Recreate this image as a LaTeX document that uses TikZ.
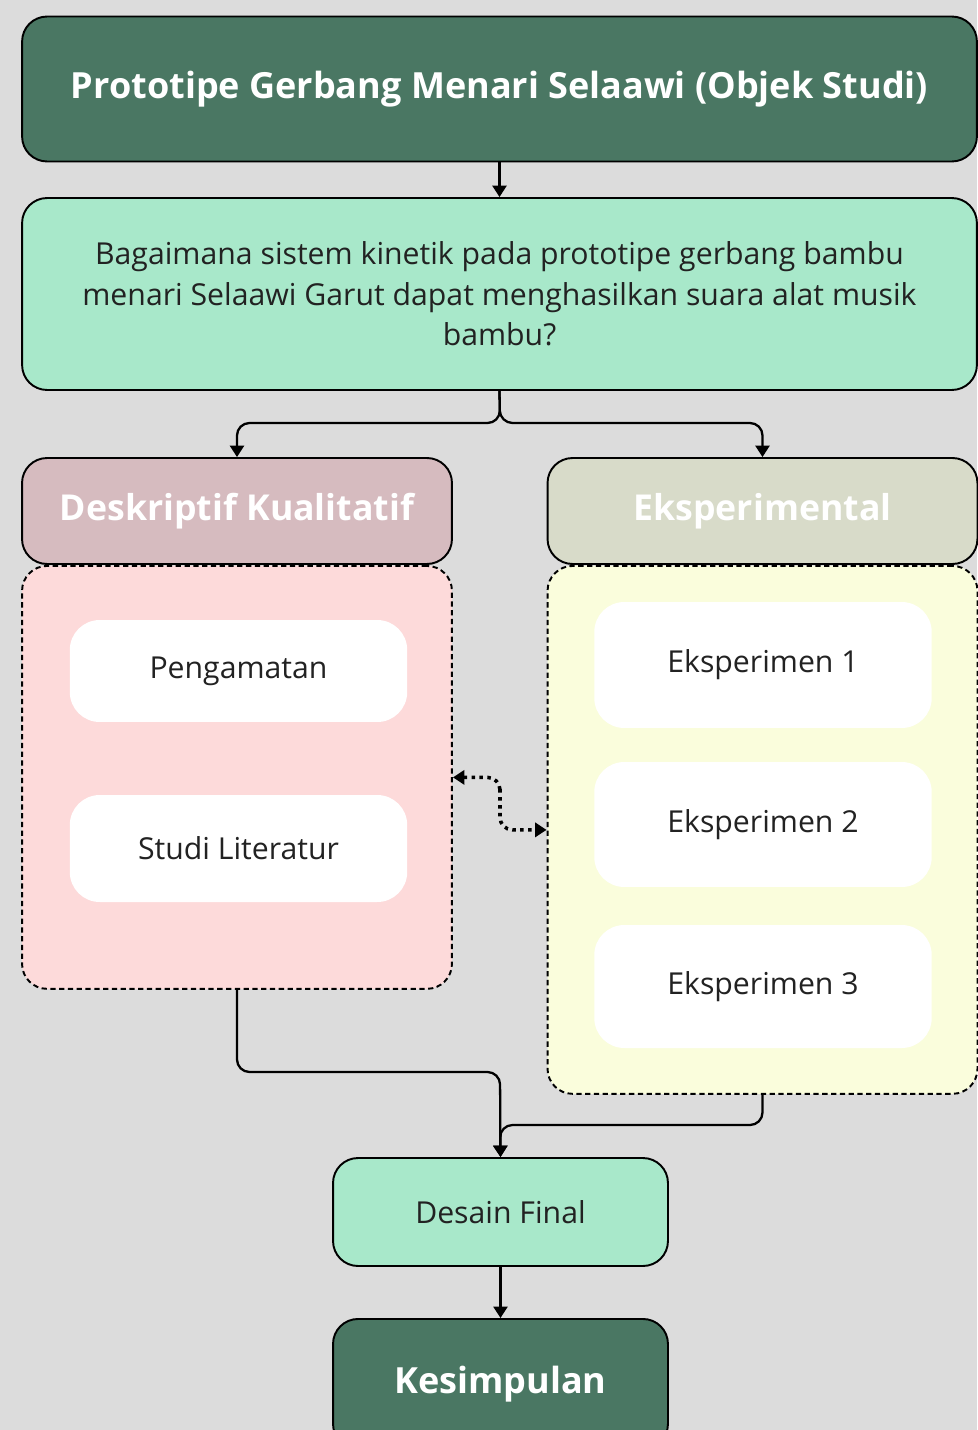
\documentclass[tikz,border=0pt]{standalone}
\usepackage{fontspec}
\setmainfont{Open Sans}
\usetikzlibrary{arrows.meta}

\definecolor{bgray}{HTML}{DCDCDC}
\definecolor{darkgreen}{HTML}{4A7763}
\definecolor{mint}{HTML}{A8E8CA}
\definecolor{rosehead}{HTML}{D6BBBF}
\definecolor{rosebody}{HTML}{FDDADA}
\definecolor{sagehead}{HTML}{D8DBC9}
\definecolor{creambody}{HTML}{FAFDDC}
\definecolor{inktext}{HTML}{222222}

\begin{document}
\begin{tikzpicture}[x=0.02cm, y=-0.02cm,
        box/.style={draw=black, line width=1.1pt, rounded corners=0.5cm, align=center, inner sep=0pt},
        darkbox/.style={box, fill=darkgreen, text=white, font=\fontsize{20.5}{24}\selectfont\bfseries},
        mintbox/.style={box, fill=mint, text=inktext, font=\fontsize{17.2}{23}\selectfont},
        headbox/.style={box, text=white, minimum width=8.6cm, minimum height=2.12cm, font=\fontsize{20.3}{24}\selectfont\bfseries},
        groupbox/.style={box, dash pattern=on 3pt off 2pt, minimum width=8.6cm},
        itembox/.style={fill=white, rounded corners=0.6cm, text=inktext, minimum width=6.75cm, font=\fontsize{17.2}{20}\selectfont},
        arr/.style={line width=1.3pt, rounded corners=0.25cm, -{Triangle[length=6.5pt, width=8pt]}},
        dotlink/.style={line width=2pt, dash pattern=on 2pt off 2.5pt, rounded corners=0.25cm, {Triangle[length=6.5pt, width=8pt]}-{Triangle[length=6.5pt, width=8pt]}}
    ]
        \fill[bgray] (0,0) rectangle (977,1430);
        \useasboundingbox (0,0) rectangle (977,1430);

        \node[darkbox, minimum width=19.1cm, minimum height=2.9cm] (objek) at (499.5,89) {Prototipe Gerbang Menari Selaawi (Objek Studi)};
        \node[mintbox, minimum width=19.1cm, minimum height=3.84cm] (rumusan) at (499.5,294) {Bagaimana sistem kinetik pada prototipe gerbang bambu\\menari Selaawi Garut dapat menghasilkan suara alat musik\\bambu?};

        \node[headbox, fill=rosehead] (deskHead) at (237,511) {Deskriptif Kualitatif};
        \node[groupbox, fill=rosebody, minimum height=8.46cm, anchor=north] (deskBody) at (deskHead.south) {};
        \node[itembox, minimum height=2.04cm] (pengamatan) at (238.5,671) {Pengamatan};
        \node[itembox, minimum height=2.14cm] (literatur) at (238.5,848.5) {Studi Literatur};

        \node[headbox, fill=sagehead] (eksHead) at (762.5,511) {Eksperimental};
        \node[groupbox, fill=creambody, minimum height=10.56cm, anchor=north] (eksBody) at (eksHead.south) {};
        \node[itembox, minimum height=2.52cm] (eks1) at (763,665) {Eksperimen 1};
        \node[itembox, minimum height=2.5cm] (eks2) at (763,824.5) {Eksperimen 2};
        \node[itembox, minimum height=2.46cm] (eks3) at (763,986.5) {Eksperimen 3};

        \node[mintbox, minimum width=6.7cm, minimum height=2.16cm] (desain) at (500.5,1212) {Desain Final};
        \node[darkbox, minimum width=6.7cm, minimum height=2.6cm, anchor=north] (kesimpulan) at (500.5,1318) {Kesimpulan};

        \coordinate (split) at (500,423);
        \draw[arr] (objek) -- (rumusan);
        \draw[arr] (rumusan.south) -- (split) -| (deskHead.north);
        \draw[arr] (rumusan.south) -- (split) -| (eksHead.north);
        \draw[dotlink] (deskBody.east) -| (500,800) |- (eksBody.west);
        \draw[arr] (deskBody.south) |- (500,1072) -- (desain.north);
        \draw[arr] (eksBody.south) |- (500,1125) -- (desain.north);
        \draw[arr] (desain) -- (kesimpulan);
\end{tikzpicture}
\end{document}
